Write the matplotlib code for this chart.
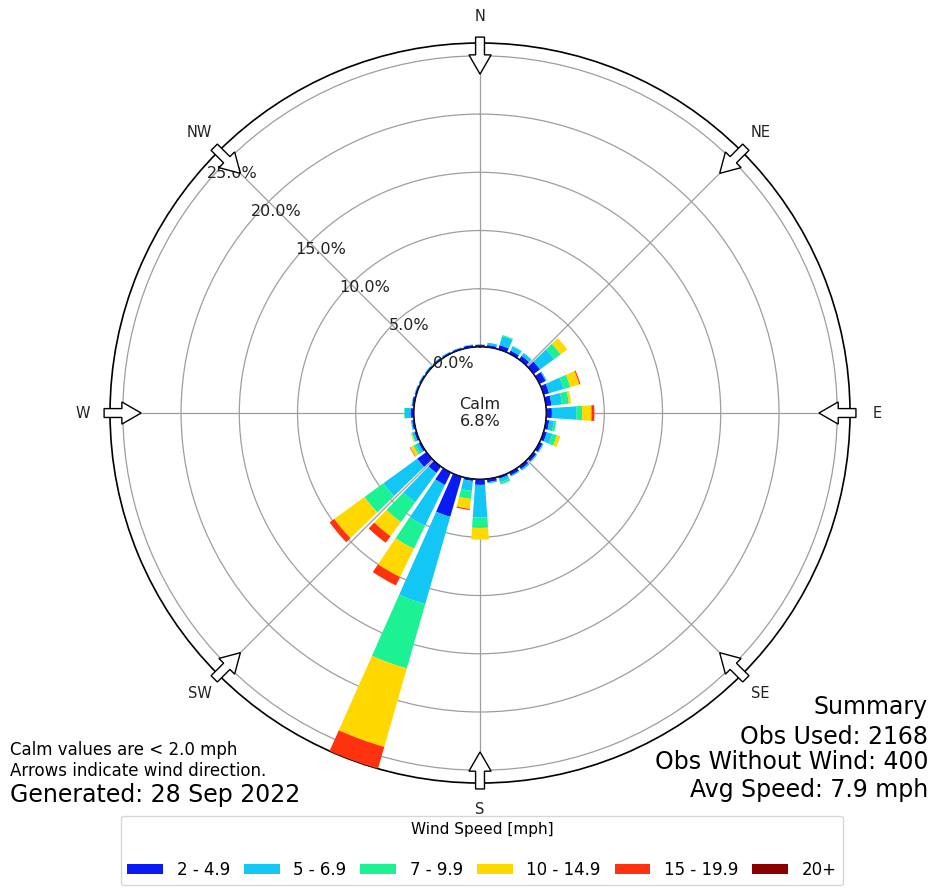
import numpy as np
import matplotlib.pyplot as plt
from matplotlib.patches import FancyArrow, Patch

# direction bins (degrees, from north, clockwise)
directions = np.arange(0, 360, 10)

bin_labels = ["2 - 4.9", "5 - 6.9", "7 - 9.9", "10 - 14.9", "15 - 19.9", "20+"]
bin_colors = ["#0a1af2", "#12c6f6", "#1cf294", "#ffd800", "#ff3210", "#8a0000"]

# frequency (%) per direction for each speed bin
spd_2_5 = [0.2, 0.2, 0.4, 0.3, 0.4, 0.7, 0.6, 0.5, 0.5, 0.5, 0.3, 0.3,
           0.3, 0.3, 0.3, 0.3, 0.2, 0.3, 0.5, 0.2, 3.6, 1.2, 0.7, 1.0,
           0.2, 0.2, 0.2, 0.3, 0.2, 0.15, 0.15, 0.15, 0.15, 0.15, 0.15, 0.2]
spd_5_7 = [0.0, 0.2, 0.8, 0.4, 0.3, 1.5, 0.1, 1.3, 0.9, 2.1, 0.4, 0.5,
           0.1, 0.1, 0.15, 0.1, 0.3, 0.1, 2.8, 0.85, 7.8, 3.9, 3.1, 3.6,
           0.3, 0.2, 0.1, 0.5, 0.05, 0.05, 0.05, 0.05, 0.05, 0.05, 0.05, 0.05]
spd_7_10 = [0.0, 0.0, 0.1, 0.05, 0.0, 0.7, 0.0, 0.6, 0.6, 0.5, 0.2, 0.4,
            0.0, 0.0, 0.0, 0.0, 0.2, 0.0, 0.9, 0.7, 5.75, 2.2, 2.1, 2.0,
            0.2, 0.05, 0.0, 0.05, 0.0, 0.0, 0.0, 0.0, 0.0, 0.0, 0.0, 0.0]
spd_10_15 = [0.0, 0.0, 0.0, 0.0, 0.0, 0.7, 0.0, 0.8, 0.2, 0.8, 0.0, 0.3,
             0.0, 0.0, 0.0, 0.0, 0.0, 0.0, 1.0, 0.85, 7.0, 2.7, 1.5, 3.2,
             0.3, 0.1, 0.0, 0.0, 0.0, 0.0, 0.0, 0.0, 0.0, 0.0, 0.0, 0.0]
spd_15_20 = [0.0, 0.0, 0.0, 0.0, 0.0, 0.0, 0.0, 0.1, 0.0, 0.25, 0.0, 0.0,
             0.0, 0.0, 0.0, 0.0, 0.0, 0.0, 0.0, 0.1, 2.6, 0.8, 0.7, 0.5,
             0.05, 0.0, 0.0, 0.0, 0.0, 0.0, 0.0, 0.0, 0.0, 0.0, 0.0, 0.0]
spd_20p = [0.0] * 36

calm_pct = 6.8
rings = [0, 5, 10, 15, 20, 25]
compass = ["N", "NE", "E", "SE", "S", "SW", "W", "NW"]
compass_deg = [0, 45, 90, 135, 180, 225, 270, 315]

fig = plt.figure(figsize=(9.34, 8.89), dpi=100)
ax = fig.add_axes([0.1178, 0.1192, 0.7923, 0.8324], projection="polar")
ax.set_theta_zero_location("N")
ax.set_theta_direction(-1)
ax.set_rorigin(-5.67)
ax.set_ylim(0, 26.1)

# stacked bars
theta = np.radians(directions)
bottom = np.zeros(len(directions))
for vals, col, lab in zip([spd_2_5, spd_5_7, spd_7_10, spd_10_15, spd_15_20, spd_20p],
                          bin_colors, bin_labels):
    vals = np.array(vals)
    ax.bar(theta, vals, width=np.radians(8), bottom=bottom, color=col,
           linewidth=0, zorder=3)
    bottom += vals

# grid
ax.set_rgrids(rings, labels=[""] * len(rings))
ax.set_thetagrids(compass_deg, labels=[""] * 8)
ax.grid(True, color="0.62", linewidth=0.9)
ax.spines["polar"].set_color("black")
ax.spines["polar"].set_linewidth(1.2)
ax.set_facecolor("white")

# calm circle
tt = np.linspace(0, 2 * np.pi, 361)
ax.plot(tt, np.zeros_like(tt), color="#101030", linewidth=1.5, zorder=4)
ax.text(0.5, 0.5, "Calm\n%.1f%%" % calm_pct, transform=ax.transAxes,
        ha="center", va="center", fontsize=11.5, color="#222222")

# radial labels
for r in rings:
    ax.annotate("%.1f%%" % r, xy=(np.radians(310.6), r), xytext=(23, 7),
                textcoords="offset pixels", ha="center", va="center",
                fontsize=11.5, color="#222222", zorder=6)

# compass labels and arrows
for name, deg in zip(compass, compass_deg):
    ax.text(np.radians(deg), 28.4, name, ha="center", va="center",
            fontsize=10.5, color="#222222", clip_on=False)
    ux, uy = np.sin(np.radians(deg)), np.cos(np.radians(deg))
    x0, y0 = 0.5 + 0.508 * ux, 0.5 + 0.508 * uy
    arr = FancyArrow(x0, y0, -0.05 * ux, -0.05 * uy, width=0.012,
                     head_width=0.03, head_length=0.026,
                     length_includes_head=True, transform=ax.transAxes,
                     facecolor="white", edgecolor="black", linewidth=1,
                     clip_on=False, zorder=7)
    ax.add_patch(arr)

# notes
fig.text(0.0107, 0.156, "Calm values are < 2.0 mph", fontsize=12, va="center")
fig.text(0.0107, 0.133, "Arrows indicate wind direction.", fontsize=12, va="center")
fig.text(0.0107, 0.106, "Generated: 28 Sep 2022", fontsize=17, va="center")

fig.text(0.9936, 0.2047, "Summary", fontsize=17, ha="right", va="center")
fig.text(0.9936, 0.171, "Obs Used: 2168", fontsize=17, ha="right", va="center")
fig.text(0.9936, 0.1426, "Obs Without Wind: 400", fontsize=17, ha="right", va="center")
fig.text(0.9936, 0.111, "Avg Speed: 7.9 mph", fontsize=17, ha="right", va="center")

# legend
handles = [Patch(facecolor=c, label=l) for c, l in zip(bin_colors, bin_labels)]
leg = fig.legend(handles=handles, loc="lower center", bbox_to_anchor=(0.516, 0.004),
                 ncol=6, title="Wind Speed [mph]\n", fontsize=12, title_fontsize=11,
                 handlelength=2.15, handleheight=0.55, columnspacing=0.85,
                 handletextpad=0.8, borderpad=0.4, borderaxespad=0.0)
leg.get_title().set_linespacing(1.0)

fig.savefig("out.png", dpi=100)
